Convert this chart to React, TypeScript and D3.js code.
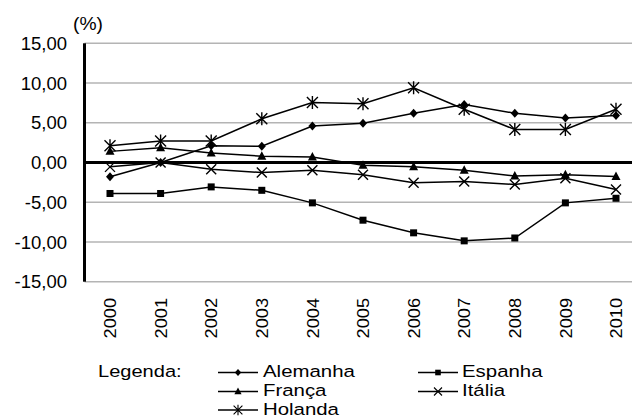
import React from "react";
import * as d3 from "d3";

const years = ["2000","2001","2002","2003","2004","2005","2006","2007","2008","2009","2010"];
const alemanha = [-1.8, 0.0, 2.1, 2.05, 4.6, 4.95, 6.2, 7.3, 6.2, 5.6, 5.9];
const espanha = [-3.9, -3.9, -3.07, -3.5, -5.08, -7.26, -8.85, -9.86, -9.5, -5.08, -4.5];
const franca = [1.4, 1.85, 1.2, 0.8, 0.7, -0.34, -0.55, -0.97, -1.7, -1.55, -1.75];
const italia = [-0.55, 0.0, -0.85, -1.26, -0.97, -1.55, -2.55, -2.4, -2.77, -1.97, -3.4];
const holanda = [2.1, 2.7, 2.7, 5.5, 7.55, 7.4, 9.4, 6.7, 4.15, 4.15, 6.7];
const yTicks = [15, 10, 5, 0, -5, -10, -15];

type Mk = "diamond" | "square" | "triangle" | "x" | "star";
const seriesList: { name: string; values: number[]; marker: Mk }[] = [
  { name: "Alemanha", values: alemanha, marker: "diamond" },
  { name: "Espanha", values: espanha, marker: "square" },
  { name: "França", values: franca, marker: "triangle" },
  { name: "Itália", values: italia, marker: "x" },
  { name: "Holanda", values: holanda, marker: "star" },
];

const FONT = "'Liberation Sans', Arial, sans-serif";

function Marker({ type, x, y }: { type: Mk; x: number; y: number }) {
  switch (type) {
    case "diamond":
      return <path d={`M${x},${y - 4.5}L${x + 4},${y}L${x},${y + 4.5}L${x - 4},${y}Z`} fill="#000" />;
    case "square":
      return <rect x={x - 3.5} y={y - 3.5} width={7} height={7} fill="#000" />;
    case "triangle":
      return <path d={`M${x},${y - 5}L${x + 4.5},${y + 3.5}L${x - 4.5},${y + 3.5}Z`} fill="#000" />;
    case "x":
      return <path d={`M${x - 5},${y - 5}L${x + 5},${y + 5}M${x - 5},${y + 5}L${x + 5},${y - 5}`} stroke="#000" strokeWidth={1.4} />;
    case "star":
      return (
        <path
          d={`M${x - 5.5},${y - 5.5}L${x + 5.5},${y + 5.5}M${x - 5.5},${y + 5.5}L${x + 5.5},${y - 5.5}M${x},${y - 6.5}L${x},${y + 6.5}`}
          stroke="#000"
          strokeWidth={1.4}
        />
      );
  }
}

function WideText({ x, y, size, sx, children }: { x: number; y: number; size: number; sx: number; children: React.ReactNode }) {
  return (
    <text transform={`translate(${x},${y}) scale(${sx},1)`} fontSize={size} fill="#000">
      {children}
    </text>
  );
}

export default function App() {
  const W = 632, H = 417;
  const axisX = 84.5;
  const x = d3.scalePoint<string>().domain(years).range([110, 616]);
  const y = d3.scaleLinear().domain([-15, 15]).range([281.7, 43.3]);
  const line = d3.line<number>().x((_, i) => x(years[i])!).y((d) => y(d));

  const legendItems = [
    { s: seriesList[0], lx: 218, tx: 263, by: 377 },
    { s: seriesList[1], lx: 418, tx: 462, by: 377 },
    { s: seriesList[2], lx: 218, tx: 263, by: 396 },
    { s: seriesList[3], lx: 418, tx: 462, by: 396 },
    { s: seriesList[4], lx: 218, tx: 263, by: 414.5 },
  ];

  return (
    <svg width={W} height={H} style={{ position: "absolute", left: 0, top: 0, background: "#fff" }} fontFamily={FONT}>
      <rect width={W} height={H} fill="#fff" />
      {yTicks.filter((t) => t !== 0).map((t) => (
        <line key={t} x1={axisX} x2={W} y1={y(t)} y2={y(t)} stroke="#b4b4b4" strokeWidth={1.5} />
      ))}
      {yTicks.map((t) => (
        <text key={"l" + t} x={67} y={y(t)} dy="0.36em" textAnchor="end" fontSize={18.5} fill="#000">
          {d3.format(".2f")(t).replace(".", ",").replace("−", "-")}
        </text>
      ))}
      <WideText x={73} y={30} size={17.5} sx={1.1}>(%)</WideText>
      {seriesList.map((s) => (
        <path key={s.name} d={line(s.values)!} fill="none" stroke="#000" strokeWidth={1.5} />
      ))}
      <line x1={axisX} x2={W} y1={y(0)} y2={y(0)} stroke="#000" strokeWidth={3} />
      <line x1={axisX} x2={axisX} y1={y(15)} y2={y(-15)} stroke="#000" strokeWidth={3} />
      {seriesList.map((s) =>
        s.values.map((v, i) => <Marker key={s.name + i} type={s.marker} x={x(years[i])!} y={y(v)} />)
      )}
      {years.map((yr) => (
        <text key={yr} transform={`translate(${x(yr)},298) rotate(-90) scale(1.07,1)`} dy="0.36em" textAnchor="end" fontSize={17} fill="#000">
          {yr}
        </text>
      ))}
      <WideText x={98} y={377} size={17} sx={1.18}>Legenda:</WideText>
      {legendItems.map(({ s, lx, tx, by }) => (
        <g key={s.name}>
          <line x1={lx} x2={lx + 40} y1={by - 4.5} y2={by - 4.5} stroke="#000" strokeWidth={1.5} />
          <g transform={`translate(${lx + 20},${by - 4.5}) scale(0.8) translate(${-(lx + 20)},${-(by - 4.5)})`}>
            <Marker type={s.marker} x={lx + 20} y={by - 4.5} />
          </g>
          <WideText x={tx} y={by} size={17} sx={1.2}>{s.name}</WideText>
        </g>
      ))}
    </svg>
  );
}
